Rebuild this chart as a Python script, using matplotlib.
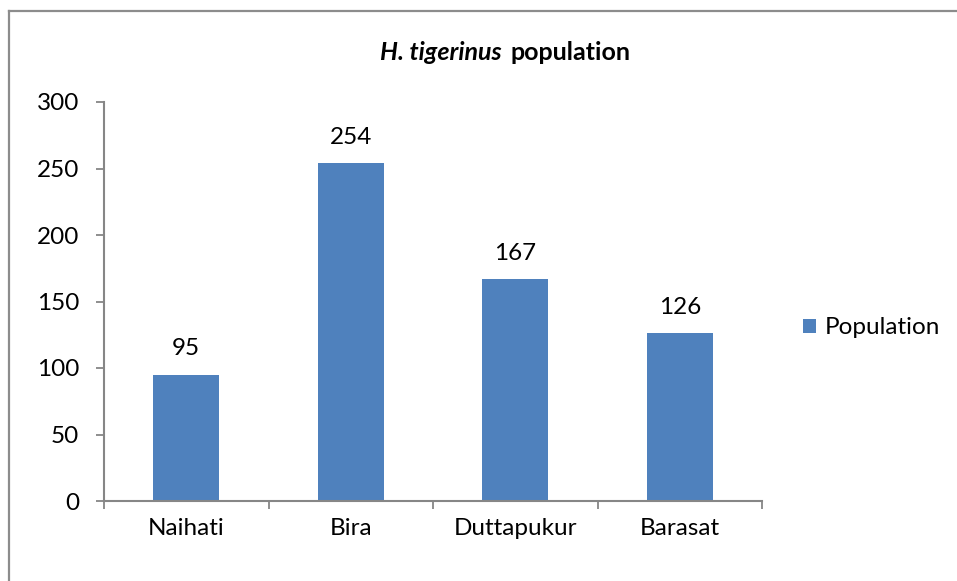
import numpy as np
import matplotlib
matplotlib.use("Agg")
import matplotlib.pyplot as plt
from matplotlib.lines import Line2D

# data
sites = ["Naihati", "Bira", "Duttapukur", "Barasat"]
population = [95, 254, 167, 126]
y_ticks = [0, 50, 100, 150, 200, 250, 300]

plt.rcParams['font.family'] = ['Lato', 'DejaVu Sans']

W, H = 957, 581
FS = 17.5
fig = plt.figure(figsize=(W / 100, H / 100), dpi=100)
ax = fig.add_axes([104 / W, (H - 501) / H, (762 - 104) / W, (501 - 102) / H])

bar_color = "#4F81BD"
axis_color = "#868686"

x = np.arange(len(sites))
bars = ax.bar(x, population, width=0.40, color=bar_color, label="Population")

# data labels
for xi, v in zip(x, population):
    ax.annotate(str(v), (xi, v), xytext=(0, 11), textcoords="offset points",
                ha="center", va="bottom", fontsize=FS, color="#000000")

ax.set_xlim(-0.5, len(sites) - 0.5)
ax.set_ylim(0, 300)
ax.set_yticks(y_ticks)
ax.set_xticks(x)
ax.set_xticklabels(sites)
# category boundary ticks
ax.set_xticks(np.arange(-0.5, len(sites), 1.0), minor=True)
ax.tick_params(axis="x", which="major", length=0, pad=12, labelsize=FS)
ax.tick_params(axis="x", which="minor", length=6, width=1.3, color=axis_color, direction="out")
ax.tick_params(axis="y", length=6, width=1.3, color=axis_color, pad=12, labelsize=FS)

for s in ["top", "right"]:
    ax.spines[s].set_visible(False)
for s in ["left", "bottom"]:
    ax.spines[s].set_color(axis_color)
    ax.spines[s].set_linewidth(1.5)

# title: italic species name + bold word
fig.text(502 / W, 1 - 53 / H, "H. tigerinus", ha="right", va="center",
         fontsize=FS + 0.5, fontweight="bold", fontstyle="italic")
fig.text(511 / W, 1 - 53 / H, "population", ha="left", va="center",
         fontsize=FS + 0.5, fontweight="bold")

fig.legend(handles=[bars], labels=["Population"], loc="center left",
           bbox_to_anchor=(803 / W, 1 - 328 / H), frameon=False, fontsize=FS,
           handlelength=0.55, handleheight=0.55, handletextpad=0.35, borderpad=0,
           borderaxespad=0)

# outer chart border (only left and top visible in the crop)
fig.add_artist(Line2D([9 / W, 9 / W], [0, 1 - 11 / H], transform=fig.transFigure,
                      color="#8C8C8C", linewidth=1.6))
fig.add_artist(Line2D([9 / W, 1], [1 - 11 / H, 1 - 11 / H], transform=fig.transFigure,
                      color="#8C8C8C", linewidth=1.6))

fig.savefig("out.png", dpi=100)
